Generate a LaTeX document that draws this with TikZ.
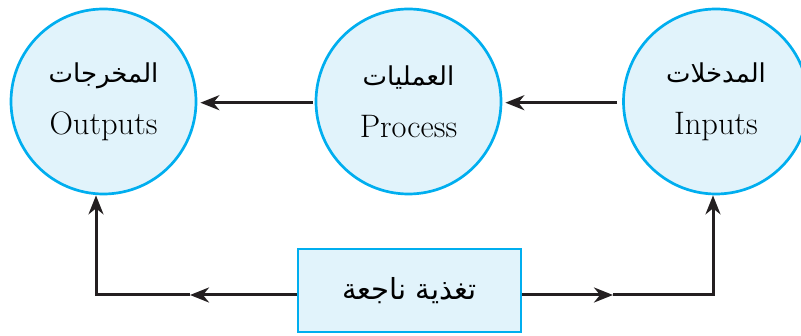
\documentclass[tikz,border=0pt]{standalone}
\usepackage{fontspec}
\newfontfamily\arabicfont[Script=Arabic]{DejaVu Sans}
\TeXXeTstate=1
\usetikzlibrary{arrows.meta}
\definecolor{cborder}{HTML}{00AEEF}
\definecolor{cfill}{HTML}{E1F3FB}
\definecolor{cline}{HTML}{231F20}
\begin{document}
\begin{tikzpicture}[x=1pt,y=-1pt,
  stage/.style={circle, draw=cborder, fill=cfill, line width=2.7pt, minimum size=185pt, inner sep=0pt, align=center, font=\fontsize{32.5}{36}\selectfont},
  fbbox/.style={rectangle, draw=cborder, fill=cfill, line width=2.7pt, minimum width=223pt, minimum height=83pt, inner sep=0pt},
  arsmall/.style={font=\arabicfont\fontsize{26}{28}\selectfont},
  conn/.style={draw=cline, line width=3pt},
  tip/.style={-{Stealth[length=19pt,width=15pt,inset=6pt]}}]
\useasboundingbox (0,0) rectangle (801,336);
\node[stage] (out) at (103.5,101.5) {{\arabicfont\fontsize{26}{28}\selectfont\beginR المخرجات\endR}\\[16pt]Outputs};
\node[stage] (proc) at (408.5,101.5) {{\arabicfont\fontsize{26}{28}\selectfont\beginR العمليات\endR}\\[16pt]Process};
\node[stage] (in) at (716,101.5) {{\arabicfont\fontsize{26}{28}\selectfont\beginR المدخلات\endR}\\[16pt]Inputs};
\node[fbbox] (fb) at (409.5,290.5) {{\arabicfont\fontsize{29}{30}\selectfont\beginR تغذية ناجعة\endR}};
\coordinate (cl) at (96,295);
\coordinate (cr) at (713,295);
\coordinate (ml) at (190,295);
\coordinate (mr) at (613,295);
\draw[conn,tip,shorten <=5pt,shorten >=3pt] ([yshift=-1.2pt]in.west) -- ([yshift=-1.2pt]proc.east);
\draw[conn,tip,shorten <=2pt,shorten >=3pt] ([yshift=-1.2pt]proc.west) -- ([yshift=-1.2pt]out.east);
\draw[conn,tip] (fb.west |- cl) -- (ml);
\draw[conn,tip] (ml) -- (cl) -- (cl |- out.south);
\draw[conn,tip] (fb.east |- cr) -- (mr);
\draw[conn,tip] (mr) -- (cr) -- (cr |- in.south);
\end{tikzpicture}
\end{document}
